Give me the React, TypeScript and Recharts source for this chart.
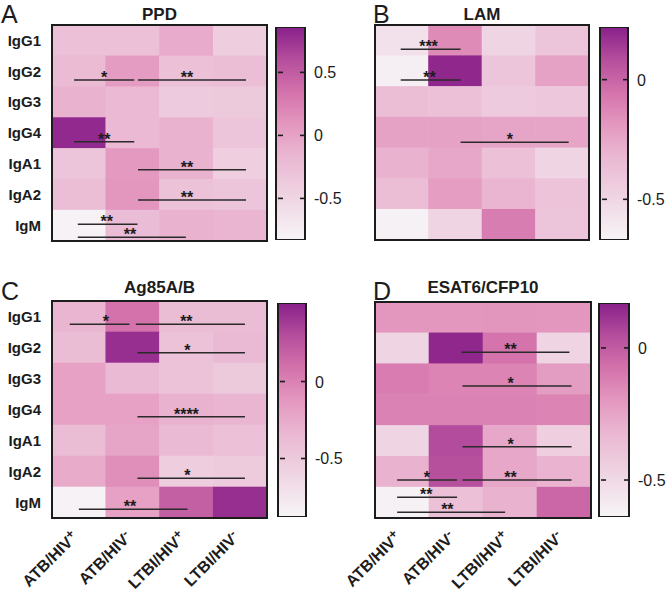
import React from 'react';
import { ScatterChart, Scatter, BarChart, Bar, XAxis, YAxis, ReferenceLine, ReferenceDot, ReferenceArea } from 'recharts';

const ROWS = ['IgG1', 'IgG2', 'IgG3', 'IgG4', 'IgA1', 'IgA2', 'IgM'];
const GROUPS = ['ATB/HIV+', 'ATB/HIV-', 'LTBI/HIV+', 'LTBI/HIV-'];

// cell values, one row per isotype, columns follow GROUPS
const ppdValues = [
  [-0.27, -0.27, -0.07, -0.41],
  [-0.2, 0.05, -0.27, -0.24],
  [-0.12, -0.19, -0.37, -0.36],
  [0.81, -0.19, -0.12, -0.32],
  [-0.32, 0.07, -0.12, -0.42],
  [-0.24, 0.1, -0.29, -0.32],
  [-0.8, -0.22, -0.12, -0.15],
];
const lamValues = [
  [-0.56, -0.14, -0.49, -0.4],
  [-0.63, 0.2, -0.4, -0.23],
  [-0.36, -0.38, -0.43, -0.42],
  [-0.23, -0.23, -0.24, -0.24],
  [-0.3, -0.25, -0.38, -0.49],
  [-0.36, -0.21, -0.31, -0.39],
  [-0.65, -0.49, -0.09, -0.4],
];
const ag85Values = [
  [-0.32, 0.09, -0.39, -0.39],
  [-0.39, 0.44, -0.43, -0.35],
  [-0.19, -0.35, -0.43, -0.49],
  [-0.19, -0.19, -0.3, -0.32],
  [-0.39, -0.21, -0.35, -0.42],
  [-0.25, -0.07, -0.53, -0.5],
  [-0.85, -0.19, 0.2, 0.44],
];
const esatValues = [
  [-0.2, -0.2, -0.19, -0.2],
  [-0.48, 0.15, -0.08, -0.48],
  [-0.11, -0.14, -0.14, -0.22],
  [-0.13, -0.13, -0.13, -0.14],
  [-0.48, 0.05, -0.26, -0.44],
  [-0.3, 0.04, -0.26, -0.31],
  [-0.62, -0.37, -0.3, -0.04],
];

const ppdRange: [number, number] = [-0.83, 0.86];
const lamRange: [number, number] = [-0.67, 0.22];
const ag85Range: [number, number] = [-0.88, 0.51];
const esatRange: [number, number] = [-0.64, 0.17];

const ppdTicks = [0.5, 0, -0.5];
const lamTicks = [0, -0.5];
const ag85Ticks = [0.5, 0, -0.5];
const esatTicks = [0, -0.5];

// significance brackets: [row position, from column, to column, stars, star position]
type Bracket = [number, number, number, string, number];
const ppdBrackets: Bracket[] = [
  [1.78, 0.41, 1.53, '*', 0.97],
  [1.78, 1.6, 3.61, '**', 2.51],
  [3.78, 0.41, 1.53, '**', 0.97],
  [4.69, 1.6, 3.61, '**', 2.51],
  [5.67, 1.6, 3.61, '**', 2.51],
  [6.46, 0.48, 1.59, '**', 1.02],
  [6.88, 0.48, 2.49, '**', 1.45],
];
const lamBrackets: Bracket[] = [
  [0.79, 0.48, 1.6, '***', 1.0],
  [1.79, 0.48, 1.6, '**', 1.02],
  [3.82, 1.6, 3.62, '*', 2.52],
];
const ag85Brackets: Bracket[] = [
  [0.75, 0.33, 1.44, '*', 1.0],
  [0.75, 1.56, 3.59, '**', 2.5],
  [1.67, 1.59, 3.59, '*', 2.52],
  [3.73, 1.59, 3.59, '****', 2.5],
  [5.72, 1.59, 3.59, '*', 2.52],
  [6.72, 0.5, 2.52, '**', 1.45],
];
const esatBrackets: Bracket[] = [
  [1.63, 1.6, 3.6, '**', 2.51],
  [2.72, 1.62, 3.64, '*', 2.51],
  [4.69, 1.62, 3.64, '*', 2.51],
  [5.77, 0.41, 1.52, '*', 0.96],
  [5.77, 1.62, 3.64, '**', 2.51],
  [6.33, 0.41, 1.52, '**', 0.95],
  [6.81, 0.41, 2.41, '**', 1.34],
];

const SCALE_STOPS: [number, string][] = [
  [0, '#f7f5f7'],
  [0.2, '#efd5e3'],
  [0.4, '#eab6d1'],
  [0.55, '#e396be'],
  [0.7, '#d371ab'],
  [0.85, '#b44d9c'],
  [1, '#88208a'],
];

const FONT = 'Arial, "Liberation Sans", Helvetica, sans-serif';
const INK = '#1c1c1c';

function hexToRgb(h: string) {
  return [parseInt(h.slice(1, 3), 16), parseInt(h.slice(3, 5), 16), parseInt(h.slice(5, 7), 16)];
}

function colorFor(v: number, range: [number, number]) {
  const t = Math.max(0, Math.min(1, (v - range[0]) / (range[1] - range[0])));
  for (let i = 1; i < SCALE_STOPS.length; i++) {
    const [t1, c1] = SCALE_STOPS[i];
    if (t <= t1) {
      const [t0, c0] = SCALE_STOPS[i - 1];
      const f = (t - t0) / (t1 - t0);
      const a = hexToRgb(c0);
      const b = hexToRgb(c1);
      const rgb = a.map((x, k) => Math.round(x + (b[k] - x) * f));
      return `rgb(${rgb[0]},${rgb[1]},${rgb[2]})`;
    }
  }
  return SCALE_STOPS[SCALE_STOPS.length - 1][1];
}

type Box = { x: number; y: number; w: number; h: number };

function Stars(props: any) {
  const { cx, cy, stars } = props;
  return (
    <text x={cx} y={cy + 3} textAnchor="middle" fontSize={16} fontWeight="bold" fill={INK} fontFamily={FONT}>
      {stars}
    </text>
  );
}

// group label with the trailing +/- raised, as in the figure
function GroupTick(props: any) {
  const { x, y, payload } = props;
  const label = GROUPS[Math.floor(payload.value)] || '';
  const base = label.slice(0, -1);
  const sign = label.slice(-1);
  return (
    <g transform={`translate(${x},${y}) rotate(-45)`}>
      <text x={0} y={0} textAnchor="end" fontSize={16} fontWeight="bold" fill={INK} fontFamily={FONT}>
        {base}
        <tspan dy={-5} fontSize={13}>{sign}</tspan>
      </text>
    </g>
  );
}

function Heatmap({ box, values, range, brackets, showRows, showGroups }: {
  box: Box;
  values: number[][];
  range: [number, number];
  brackets: Bracket[];
  showRows: boolean;
  showGroups: boolean;
}) {
  const yw = showRows ? 52 : 0;
  const padL = showRows ? 2 : 40;
  const xh = showGroups ? 80 : 0;
  const cw = box.w / GROUPS.length;
  const rh = box.h / ROWS.length;
  const cells = values.flatMap((row, r) =>
    row.map((v, c) => ({ x: c + 0.5, y: r + 0.5, v }))
  );
  const CellShape = (p: any) => (
    <rect
      x={p.cx - cw / 2 - 0.3}
      y={p.cy - rh / 2 - 0.3}
      width={cw + 0.6}
      height={rh + 0.6}
      fill={colorFor(p.payload.v, range)}
    />
  );
  return (
    <div style={{ position: 'absolute', left: box.x - yw - padL, top: box.y - 2 }}>
      <ScatterChart
        width={padL + yw + box.w + 2}
        height={box.h + 4 + xh}
        margin={{ top: 2, right: 2, bottom: 2, left: padL }}
      >
        <XAxis
          type="number"
          dataKey="x"
          domain={[0, 4]}
          ticks={[0.5, 1.5, 2.5, 3.5]}
          hide={!showGroups}
          height={xh}
          axisLine={false}
          tickLine={false}
          tickSize={0}
          tickMargin={20}
          interval={0}
          allowDataOverflow
          tick={<GroupTick />}
        />
        <YAxis
          type="number"
          dataKey="y"
          domain={[0, 7]}
          reversed
          ticks={[0.5, 1.5, 2.5, 3.5, 4.5, 5.5, 6.5]}
          tickFormatter={(v: number) => ROWS[Math.floor(v)]}
          hide={!showRows}
          width={yw}
          axisLine={false}
          tickLine={false}
          tickSize={0}
          tickMargin={11}
          interval={0}
          allowDataOverflow
          tick={{ fontSize: 15, fontWeight: 'bold', fill: INK, fontFamily: FONT }}
        />
        <Scatter data={cells} shape={CellShape} isAnimationActive={false} zIndex={50} />
        {brackets.map(([y, x1, x2], i) => (
          <ReferenceLine
            key={'l' + i}
            segment={[{ x: x1, y }, { x: x2, y }]}
            stroke="#2a2a2a"
            strokeWidth={1.5}
            zIndex={700}
          />
        ))}
        {brackets.map(([y, , , stars, sx], i) => (
          <ReferenceDot
            key={'s' + i}
            x={sx}
            y={y}
            r={1}
            zIndex={750}
            shape={(p: any) => <Stars {...p} stars={stars} />}
          />
        ))}
        <ReferenceArea x1={0} x2={4} y1={0} y2={7} fill="none" stroke={INK} strokeWidth={2} zIndex={800} />
      </ScatterChart>
    </div>
  );
}

function ColorBar({ box, range, ticks, id }: { box: Box; range: [number, number]; ticks: number[]; id: string }) {
  const data = [{ name: 'scale', span: range }];
  const renderTick = (p: any) => {
    const { x, y, payload } = p;
    return (
      <g>
        <line x1={x - 5} x2={x} y1={y} y2={y} stroke={INK} strokeWidth={1.6} />
        <line x1={x - box.w} x2={x - box.w + 5} y1={y} y2={y} stroke={INK} strokeWidth={1.6} />
        <text x={x + 9} y={y + 6} fontSize={16} fill={INK} fontFamily={FONT}>
          {payload.value}
        </text>
      </g>
    );
  };
  return (
    <div style={{ position: 'absolute', left: box.x - 2, top: box.y - 2 }}>
      <svg width={0} height={0} style={{ position: 'absolute' }}>
        <defs>
          <linearGradient id={id} x1="0" y1="1" x2="0" y2="0">
            {SCALE_STOPS.map(([t, c]) => (
              <stop key={t} offset={t} stopColor={c} />
            ))}
          </linearGradient>
        </defs>
      </svg>
      <BarChart
        width={box.w + 4 + 45}
        height={box.h + 4}
        data={data}
        margin={{ top: 2, right: 2, bottom: 2, left: 2 }}
        barCategoryGap={0}
      >
        <XAxis dataKey="name" hide />
        <YAxis
          orientation="right"
          type="number"
          domain={range}
          ticks={ticks}
          width={43}
          axisLine={false}
          tickLine={false}
          tickSize={0}
          tickMargin={0}
          tick={renderTick}
          allowDataOverflow
        />
        <Bar dataKey="span" fill={`url(#${id})`} stroke={INK} strokeWidth={2} isAnimationActive={false} />
      </BarChart>
    </div>
  );
}

function Label({ x, y, text, size, bold, w }: { x: number; y: number; text: string; size: number; bold?: boolean; w?: number }) {
  return (
    <div
      style={{
        position: 'absolute',
        left: w ? x - w / 2 : x,
        top: y,
        width: w,
        textAlign: w ? 'center' : 'left',
        fontSize: size,
        fontWeight: bold ? 'bold' : 'normal',
        fontFamily: FONT,
        color: INK,
        lineHeight: 1,
        whiteSpace: 'nowrap',
      }}
    >
      {text}
    </div>
  );
}

function Panel(props: {
  letter: string;
  title: string;
  box: Box;
  bar: Box;
  values: number[][];
  range: [number, number];
  ticks: number[];
  brackets: Bracket[];
  showRows: boolean;
  showGroups: boolean;
  letterPos: [number, number];
  titleY: number;
}) {
  return (
    <>
      <Label x={props.letterPos[0]} y={props.letterPos[1]} text={props.letter} size={25} />
      <Label x={props.box.x + props.box.w / 2} y={props.titleY} text={props.title} size={17} bold w={200} />
      <Heatmap
        box={props.box}
        values={props.values}
        range={props.range}
        brackets={props.brackets}
        showRows={props.showRows}
        showGroups={props.showGroups}
      />
      <ColorBar box={props.bar} range={props.range} ticks={props.ticks} id={'grad' + props.letter} />
    </>
  );
}

export default function App() {
  return (
    <div style={{ position: 'absolute', left: 0, top: 0, width: 666, height: 593, background: '#fff', overflow: 'hidden' }}>
      <Panel
        letter="A"
        title="PPD"
        box={{ x: 52, y: 25, w: 215, h: 216 }}
        bar={{ x: 276, y: 27, w: 27, h: 213 }}
        values={ppdValues}
        range={ppdRange}
        ticks={ppdTicks}
        brackets={ppdBrackets}
        showRows
        showGroups={false}
        letterPos={[1, 2]}
        titleY={6}
      />
      <Panel
        letter="B"
        title="LAM"
        box={{ x: 375, y: 25, w: 214, h: 215 }}
        bar={{ x: 600, y: 27, w: 26, h: 213 }}
        values={lamValues}
        range={lamRange}
        ticks={lamTicks}
        brackets={lamBrackets}
        showRows={false}
        showGroups={false}
        letterPos={[373, 2]}
        titleY={6}
      />
      <Panel
        letter="C"
        title="Ag85A/B"
        box={{ x: 52, y: 301, w: 215, h: 217 }}
        bar={{ x: 278, y: 303, w: 26, h: 214 }}
        values={ag85Values}
        range={ag85Range}
        ticks={ag85Ticks}
        brackets={ag85Brackets}
        showRows
        showGroups
        letterPos={[1, 279]}
        titleY={279}
      />
      <Panel
        letter="D"
        title="ESAT6/CFP10"
        box={{ x: 375, y: 302, w: 216, h: 216 }}
        bar={{ x: 599, y: 303, w: 28, h: 214 }}
        values={esatValues}
        range={esatRange}
        ticks={esatTicks}
        brackets={esatBrackets}
        showRows={false}
        showGroups
        letterPos={[373, 279]}
        titleY={279}
      />
    </div>
  );
}
